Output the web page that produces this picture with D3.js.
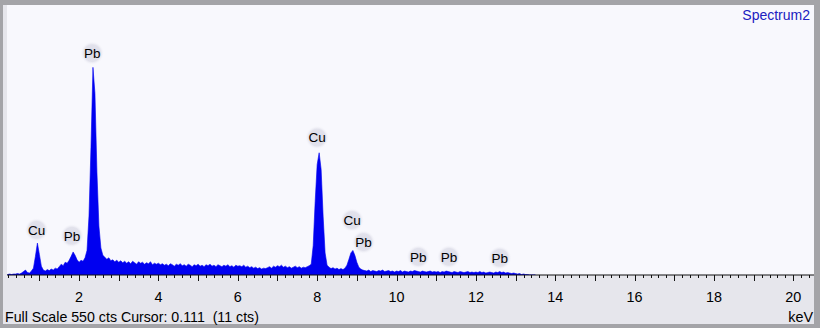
<!DOCTYPE html>
<html>
<head>
<meta charset="utf-8">
<script src="https://cdn.jsdelivr.net/npm/d3@7"></script>
<style>
  body { margin: 0; background: #a4a4a8; }
  svg { display: block; }
  text { font-family: "Liberation Sans", Arial, sans-serif; white-space: pre; }
</style>
</head>
<body>
<div id="chart"></div>
<script>
// EDS spectrum "Spectrum2", drawn with d3

// spectrum channels: first energy and channel width (keV)
var startKeV = 0.20;
var stepKeV = 0.05;

// counts per channel (one row per keV)
var counts = [
  1, 2, 1, 2, 2, 3, 2, 4, 7, 10, 5, 4, 8, 14, 38, 65,                       // 0.20 - 0.95
  42, 18, 10, 8, 11, 9, 12, 10, 14, 12, 17, 22, 19, 26, 24, 30, 38, 47, 40, 31, // 1
  26, 30, 28, 35, 50, 120, 260, 423, 370, 210, 100, 55, 40, 36, 32, 35, 29, 31, 27, 30, // 2
  26, 29, 25, 28, 24, 27, 23, 28, 25, 22, 27, 24, 26, 22, 25, 23, 27, 21, 24, 22, // 3
  24, 21, 23, 20, 22, 19, 23, 21, 18, 22, 20, 23, 19, 21, 18, 22, 20, 17, 21, 19, // 4
  22, 18, 20, 17, 21, 19, 22, 18, 20, 17, 21, 19, 17, 20, 18, 21, 17, 19, 16, 20, // 5
  18, 19, 17, 20, 16, 18, 15, 17, 14, 16, 13, 15, 12, 14, 13, 15, 17, 14, 18, 16, // 6
  19, 17, 20, 16, 18, 15, 17, 14, 16, 18, 15, 17, 14, 16, 15, 17, 19, 22, 60, 150, // 7
  225, 249, 215, 120, 45, 20, 16, 13, 15, 12, 14, 11, 13, 11, 14, 20, 32, 45, 50, 40, // 8
  26, 16, 12, 10, 9, 8, 10, 7, 9, 8, 7, 9, 8, 10, 7, 8, 9, 7, 8, 6,         // 9
  8, 7, 9, 6, 8, 7, 6, 8, 7, 9, 8, 7, 6, 8, 7, 6, 7, 8, 6, 7,               // 10
  6, 7, 5, 7, 6, 8, 7, 6, 5, 7, 6, 5, 7, 6, 5, 6, 7, 5, 6, 5,               // 11
  6, 5, 7, 5, 6, 4, 5, 6, 5, 4, 6, 5, 7, 5, 6, 4, 5, 4, 3, 4,               // 12
  3, 2, 3, 1, 2, 1, 1, 0, 0, 0, 0                                           // 13.00 - 13.50
];

// peak labels: element, energy (keV) and the height (cts) where the label sits
var labelNames = ["Cu", "Pb", "Pb", "Cu", "Cu", "Pb", "Pb", "Pb", "Pb"];
var labelKeV = [0.93, 1.82, 2.33, 8.00, 8.88, 9.17, 10.55, 11.32, 12.60];
var labelCts = [92, 80, 452, 280, 112, 67, 37, 37, 35];

// axis
var xDomain = [0, 20.52];
var yDomain = [0, 550];
var tickLabels = [2, 4, 6, 8, 10, 12, 14, 16, 18, 20];

// texts
var title = "Spectrum2";
var status = "Full Scale 550 cts Cursor: 0.111  (11 cts)";
var unit = "keV";

//////////////////////////////////////////////////////////////////////
var W = 820, H = 328;
var plot = { left: 7, right: 814, top: 5, bottom: 275 };

var svg = d3.select("#chart").append("svg")
    .attr("width", W)
    .attr("height", H);

// outer frame and panels
svg.append("rect").attr("width", W).attr("height", H).attr("fill", "#a4a4a8");
svg.append("rect")
    .attr("x", 3).attr("y", plot.top)
    .attr("width", plot.right - 3).attr("height", H - 4 - plot.top)
    .attr("fill", "#e6e6ec");
svg.append("rect")
    .attr("x", plot.left).attr("y", plot.top)
    .attr("width", plot.right - plot.left).attr("height", plot.bottom - plot.top)
    .attr("fill", "#f8f8fd");

// scales: x range chosen so that 0 keV sits at pixel 0
var xScale = d3.scaleLinear().domain(xDomain).range([-0.3, plot.right]);
var yScale = d3.scaleLinear().domain(yDomain).range([plot.bottom, plot.top]);

var spectrum = counts.map(function (c, i) {
    return { keV: startKeV + i * stepKeV, cts: c };
});

// clip to the plot box
svg.append("clipPath").attr("id", "plotclip")
  .append("rect")
    .attr("x", plot.left).attr("y", plot.top)
    .attr("width", plot.right - plot.left).attr("height", plot.bottom - plot.top);

var area = d3.area()
    .x(function (d) { return xScale(d.keV); })
    .y0(plot.bottom)
    .y1(function (d) { return yScale(d.cts); });

svg.append("path")
    .datum(spectrum)
    .attr("clip-path", "url(#plotclip)")
    .attr("fill", "#0000f0")
    .attr("stroke", "#0000f0")
    .attr("stroke-width", 0.6)
    .attr("d", area);

// soft discs behind the peak labels
var defs = svg.append("defs");
var grad = defs.append("radialGradient").attr("id", "disc");
grad.append("stop").attr("offset", "0%").attr("stop-color", "#dcdce8");
grad.append("stop").attr("offset", "70%").attr("stop-color", "#e2e2ec");
grad.append("stop").attr("offset", "100%").attr("stop-color", "#f8f8fd").attr("stop-opacity", 0);

var labels = svg.selectAll("g.peak")
    .data(labelNames)
    .enter().append("g")
    .attr("class", "peak")
    .attr("transform", function (d, i) {
        return "translate(" + xScale(labelKeV[i]) + "," + yScale(labelCts[i]) + ")";
    });

labels.append("circle")
    .attr("r", 12)
    .attr("fill", "url(#disc)");

labels.append("text")
    .attr("text-anchor", "middle")
    .attr("dy", "0.36em")
    .attr("font-size", "13.5px")
    .attr("fill", "#000")
    .text(function (d) { return d; });

// x axis: minor ticks every 0.2 keV, major every 1 keV, labels every 2
var axisG = svg.append("g")
    .attr("transform", "translate(0," + plot.bottom + ")");

axisG.append("line")
    .attr("x1", plot.left).attr("x2", plot.right)
    .attr("stroke", "#111").attr("stroke-width", 1);

var minor = xScale.ticks(103).filter(function (v) {
    return xScale(v) >= plot.left && xScale(v) <= plot.right;
});
axisG.selectAll("line.tick")
    .data(minor)
    .enter().append("line")
    .attr("class", "tick")
    .attr("x1", function (d) { return Math.round(xScale(d)) + 0.5; })
    .attr("x2", function (d) { return Math.round(xScale(d)) + 0.5; })
    .attr("y1", 0)
    .attr("y2", function (d) {
        return Math.abs(d - Math.round(d)) < 1e-6 ? 6 : 3;
    })
    .attr("stroke", "#111");

axisG.selectAll("text.ticklabel")
    .data(tickLabels)
    .enter().append("text")
    .attr("class", "ticklabel")
    .attr("x", function (d) { return xScale(d); })
    .attr("y", 27)
    .attr("text-anchor", "middle")
    .attr("font-size", "14.4px")
    .attr("fill", "#000")
    .text(function (d) { return d; });

// title, status line and unit
svg.append("text")
    .attr("x", 810).attr("y", 20)
    .attr("text-anchor", "end")
    .attr("font-size", "14px")
    .attr("fill", "#2020c0")
    .text(title);

svg.append("text")
    .attr("x", 5).attr("y", 322)
    .attr("font-size", "14.2px")
    .attr("fill", "#000")
    .text(status);

svg.append("text")
    .attr("x", 813).attr("y", 322)
    .attr("text-anchor", "end")
    .attr("font-size", "14.4px")
    .attr("fill", "#000")
    .text(unit);
</script>
</body>
</html>
